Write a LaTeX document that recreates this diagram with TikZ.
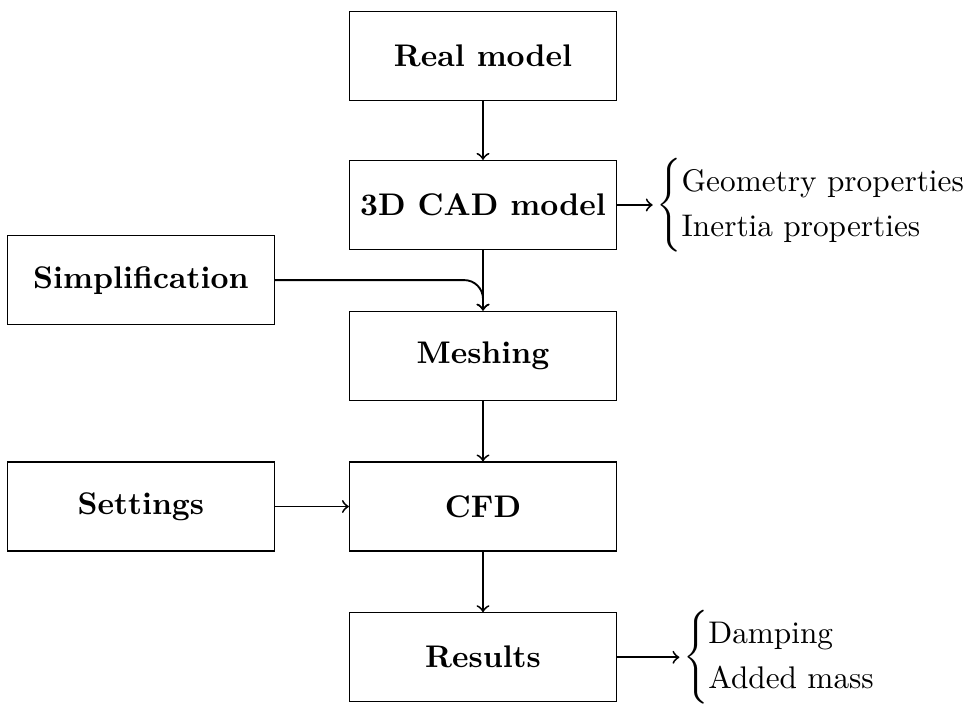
\documentclass[tikz,border=0pt]{standalone}
\usepackage{amsmath}
\usetikzlibrary{positioning}
\begin{document}
\begin{tikzpicture}[
    box/.style={draw, minimum width=3cm, minimum height=1cm, font=\bfseries}]
  \useasboundingbox (0,0) rectangle (10.854,-7.910);
  \node[box] (real) at (5.427,-0.629) {Real model};
  \node[box, below=0.66cm of real] (cad) {3D CAD model};
  \node[box, below=0.68cm of cad] (mesh) {Meshing};
  \node[box, below=0.68cm of mesh] (cfd) {CFD};
  \node[box, below=0.68cm of cfd] (res) {Results};
  \node[box, left=0.83cm of cfd] (set) {Settings};
  \node[box, above=1.53cm of set] (simp) {Simplification};
  \node[right=0.4cm of cad, inner sep=1pt] (cadprop)
    {$\begin{cases}\text{Geometry properties}\\ \text{Inertia properties}\end{cases}$};
  \node[right=0.7cm of res, inner sep=1pt] (resprop)
    {$\begin{cases}\text{Damping}\\ \text{Added mass}\end{cases}$};
  \begin{scope}[->, semithick]
    \draw (real) to (cad);
    \draw (cad) to (mesh);
    \draw (mesh) to (cfd);
    \draw (cfd) to (res);
    \draw (set) to (cfd);
    \draw (cad) to (cadprop);
    \draw (res) to (resprop);
    \draw[rounded corners=6pt] (simp) -| (mesh.north);
  \end{scope}
\end{tikzpicture}
\end{document}
